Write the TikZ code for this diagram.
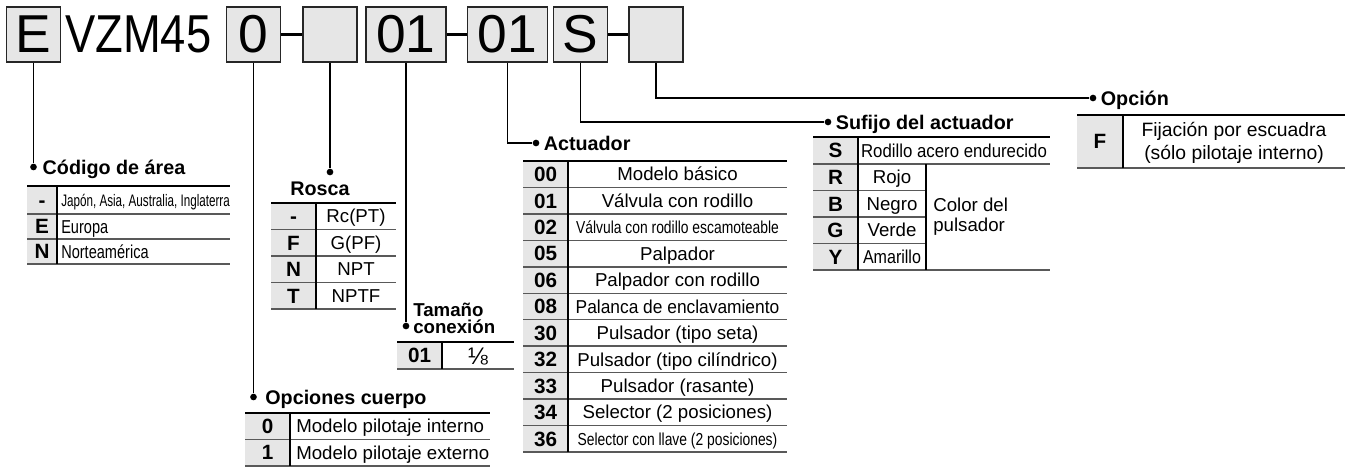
\documentclass[tikz,border=0pt]{standalone}
\usepackage{fontspec}
\setmainfont{Liberation Sans}
\usetikzlibrary{positioning,calc}
\definecolor{boxfill}{HTML}{E6E6E6}
\definecolor{cellfill}{HTML}{E6E6E6}
\definecolor{rulegray}{HTML}{595959}
\newcommand{\squeeze}[2]{\scalebox{#1}[1]{#2}}
\newcommand{\smallcond}[1]{\fontsize{13}{14}\selectfont\squeeze{0.8}{#1}}
\tikzset{
  codebox/.style={draw=black!85, fill=boxfill, line width=1.4pt, inner sep=0pt,
    minimum width=40.5pt, minimum height=41.25pt, font=\fontsize{40}{40}\selectfont},
  widebox/.style={codebox, minimum width=60pt},
  joinline/.style={line width=2.2pt},
  leadline/.style={line width=1.3pt},
  leaddot/.style={circle, fill=black, inner sep=0pt, minimum size=5pt},
  grouplabel/.style={font=\fontsize{14.8}{16}\selectfont\bfseries, inner sep=0pt,
    text height=10.6pt, text depth=0pt},
  codecell/.style={font=\fontsize{15.5}{16}\selectfont\bfseries, inner sep=0pt,
    text height=11pt, text depth=0pt},
  textcell/.style={font=\fontsize{14}{16}\selectfont, inner sep=0pt,
    text height=10pt, text depth=0pt},
  notecell/.style={font=\fontsize{14.5}{17.2}\selectfont, inner sep=0pt},
  toprule/.style={line width=1.8pt},
  rowrule/.style={line width=1.1pt, draw=rulegray},
  colrule/.style={line width=0.8pt}
}
\begin{document}
\begin{tikzpicture}[x=0.75pt,y=-0.75pt]
\useasboundingbox (0,0) rectangle (1349,468);

% model code row
\node[codebox] (bE) at (33.5,34.5) {E};
\node[anchor=west, inner sep=0pt, font=\fontsize{40}{40}\selectfont] (model) at (65,34.5) {\squeeze{0.85}{VZM45}};
\node[codebox] (b0) at (253.5,34.5) {0};
\node[codebox] (bR) at (330,34.5) {};
\node[widebox] (bT) at (406,34.5) {01};
\node[widebox] (bA) at (507.5,34.5) {01};
\node[codebox] (bS) at (580.5,34.5) {S};
\node[codebox] (bO) at (656,34.5) {};
\draw[joinline] (b0) -- (bR);
\draw[joinline] (bT) -- (bA);
\draw[joinline] (bS) -- (bO);

% leaders
\coordinate (rowArea) at (0,167);
\coordinate (rowRos) at (0,172);
\coordinate (rowTam) at (0,326);
\coordinate (rowBody) at (0,397);
\node[leaddot] (dArea) at (bE.south |- rowArea) {};
\node[grouplabel, right=4pt of dArea] (lArea) {Código de área};
\draw[leadline] (bE) -- (dArea);

\node[leaddot] (dRos) at (bR.south |- rowRos) {};
\node[grouplabel] (lRos) at (320,188) {Rosca};
\draw[leadline] (bR) -- (dRos);

\node[leaddot] (dTam) at (bT.south |- rowTam) {};
\node[font=\fontsize{14}{12.8}\selectfont\bfseries, inner sep=0pt, align=left, anchor=west] (lTam) at (413,318) {Tamaño\\conexión};
\draw[leadline] (bT) -- (dTam);

\node[leaddot] (dBody) at (b0.south |- rowBody) {};
\node[grouplabel, right=6pt of dBody] (lBody) {Opciones cuerpo};
\draw[leadline] (b0) -- (dBody);

\node[leaddot] (dAct) at (536,143) {};
\node[grouplabel, right=3pt of dAct] (lAct) {Actuador};
\draw[leadline] (bA) |- (dAct);

\node[leaddot] (dSuf) at (828,122) {};
\node[grouplabel, right=3pt of dSuf] (lSuf) {Sufijo del actuador};
\draw[leadline] (bS) |- (dSuf);

\node[leaddot] (dOpt) at (1093,98) {};
\node[grouplabel, right=3pt of dOpt] (lOpt) {Opción};
\draw[leadline] (bO) |- (dOpt);

% area code table
\fill[cellfill] (27,186) rectangle (57,264);
\foreach \yy in {214,239,264} \draw[rowrule] (27,\yy) -- (230,\yy);
\draw[toprule] (27,186) -- (230,186);
\draw[colrule] (57,186) -- (57,264);
\node[codecell] (a1) at (42,200) {-};
\node[textcell, anchor=west, text height=9pt] (a1t) at (61,200) {\fontsize{12.5}{13}\selectfont\squeeze{0.70}{Japón, Asia, Australia, Inglaterra}};
\node[codecell] (a2) at (42,226.5) {E};
\node[textcell, anchor=west, text height=10pt] (a2t) at (61,226.5) {\fontsize{14}{15}\selectfont\squeeze{0.78}{Europa}};
\node[codecell] (a3) at (42,251.5) {N};
\node[textcell, anchor=west, text height=10pt] (a3t) at (61,251.5) {\fontsize{14}{15}\selectfont\squeeze{0.78}{Norteamérica}};

% thread table
\fill[cellfill] (271,203) rectangle (316,309);
\foreach \yy in {229.5,256,282.5,309} \draw[rowrule] (271,\yy) -- (396,\yy);
\draw[toprule] (271,203) -- (396,203);
\draw[colrule] (316,203) -- (316,309);
\foreach \c/\t [count=\i] in {-/Rc(PT), F/G(PF), N/NPT, T/NPTF}{
  \node[codecell] (r\i) at (293.5,{203+26.5*(\i-0.5)}) {\c};
  \node[textcell] (r\i t) at (356,{203+26.5*(\i-0.5)}) {\t};
}

% port size table
\fill[cellfill] (397,342) rectangle (442,369);
\draw[rowrule] (397,369) -- (514,369);
\draw[toprule] (397,342) -- (514,342);
\draw[colrule] (442,342) -- (442,369);
\node[codecell] (t1) at (419.5,355.5) {01};
\node[textcell, font=\fontsize{18}{18}\selectfont, text height=13pt] (t1t) at (478,355.5) {⅛};

% body option table
\fill[cellfill] (245,413) rectangle (290,466);
\draw[rowrule] (245,439.5) -- (490,439.5);
\draw[rowrule] (245,466) -- (490,466);
\draw[toprule] (245,413) -- (490,413);
\draw[colrule] (290,413) -- (290,466);
\node[codecell] (c1) at (267.5,426) {0};
\node[textcell, anchor=west] (c1t) at (296,426) {Modelo pilotaje interno};
\node[codecell] (c2) at (267.5,452.5) {1};
\node[textcell, anchor=west] (c2t) at (296,452.5) {Modelo pilotaje externo};

% actuator table
\fill[cellfill] (523,161) rectangle (568,452);
\foreach \i in {1,...,11} \draw[rowrule] (523,{161+26.45*\i}) -- (787,{161+26.45*\i});
\draw[toprule] (523,161) -- (787,161);
\draw[colrule] (568,161) -- (568,452);
\foreach \c/\t [count=\i] in {00/Modelo básico, 01/Válvula con rodillo,
    02/{\smallcond{Válvula con rodillo escamoteable}}, 05/Palpador,
    06/Palpador con rodillo, 08/{\squeeze{0.93}{Palanca de enclavamiento}},
    30/Pulsador (tipo seta), 32/Pulsador (tipo cilíndrico),
    33/Pulsador (rasante), 34/Selector (2 posiciones),
    36/{\smallcond{Selector con llave (2 posiciones)}}}{
  \node[codecell] (k\i) at (545.5,{161+26.45*(\i-0.5)}) {\c};
  \node[textcell] (k\i t) at (677.5,{161+26.45*(\i-0.5)}) {\t};
}

% actuator suffix table
\fill[cellfill] (813,137) rectangle (858,270);
\draw[rowrule] (813,164) -- (1050,164);
\foreach \yy in {190.5,217,243.5} \draw[rowrule] (813,\yy) -- (926,\yy);
\draw[rowrule] (813,270) -- (1050,270);
\draw[toprule] (813,137) -- (1050,137);
\draw[colrule] (858,137) -- (858,270);
\draw[colrule] (926,164) -- (926,270);
\node[codecell] (s1) at (835.5,150.5) {S};
\node[textcell] (s1t) at (954,150.5) {\squeeze{0.9}{Rodillo acero endurecido}};
\foreach \c/\t [count=\i from 2] in {R/Rojo, B/Negro, G/Verde, Y/{\fontsize{14}{15}\selectfont\squeeze{0.86}{Amarillo}}}{
  \node[codecell] (s\i) at (835.5,{164+26.5*(\i-1.5)}) {\c};
  \node[textcell] (s\i t) at (892,{164+26.5*(\i-1.5)}) {\t};
}
\node[font=\fontsize{14}{15}\selectfont, inner sep=0pt, align=left, anchor=west] (sCol) at (933,217) {Color del\\pulsador};

% option table
\fill[cellfill] (1077,115) rectangle (1123,168);
\draw[rowrule] (1077,168) -- (1345,168);
\draw[toprule] (1077,115) -- (1345,115);
\draw[colrule] (1123,115) -- (1123,168);
\node[codecell] (o1) at (1100,141.5) {F};
\node[notecell, align=center] (o1t) at (1234,143) {Fijación por escuadra\\(sólo pilotaje interno)};
\end{tikzpicture}
\end{document}
